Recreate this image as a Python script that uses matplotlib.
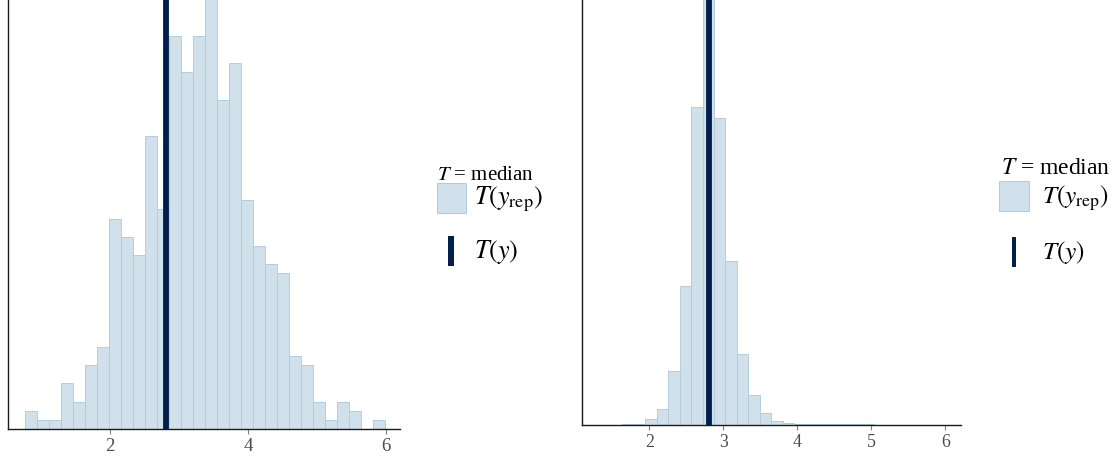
import numpy as np
import matplotlib
matplotlib.use("Agg")
import matplotlib.pyplot as plt
from matplotlib.patches import Rectangle

plt.rcParams["mathtext.fontset"] = "stix"
plt.rcParams["font.family"] = ["Liberation Serif", "DejaVu Serif"]

# Posterior predictive check of the median: replicated medians vs observed median
# Panel 1: wider model
left_bin_start = 0.773
left_bin_width = 0.1739
left_counts = [2, 1, 1, 5, 3, 7, 9, 23, 21, 19, 32, 24, 43, 39, 43,
               47, 36, 40, 25, 20, 18, 17, 8, 7, 3, 1, 3, 2, 0, 1]

# Panel 2: fitted model
right_bin_start = 1.327
right_bin_width = 0.1547
right_counts = [0, 0, 1, 3, 15, 40, 139, 358, 819, 1097, 790, 421, 183, 76, 31,
                10, 5, 3, 3, 2, 2, 1, 1, 1, 0, 0, 0, 0, 0, 0]

observed_median = 2.809

left_ticks = [2, 4, 6]
right_ticks = [2, 3, 4, 5, 6]

LIGHT = "#d1e1ec"
LIGHT_HI = "#b3cde0"
DARK_HI = "#011f4b"
TICK_COL = "#4d4d4d"

W, H = 1117, 460
fig = plt.figure(figsize=(W / 100, H / 100), dpi=100)


def px_box(x0, x1, ytop, ybot):
    return [x0 / W, 1 - ybot / H, (x1 - x0) / W, (ybot - ytop) / H]


def draw_panel(ax, start, width, counts, xlim, ticks, tick_size):
    counts = np.asarray(counts, dtype=float)
    edges = start + width * np.arange(len(counts) + 1)
    ax.hist(edges[:-1], bins=edges, weights=counts, color=LIGHT,
            edgecolor=LIGHT_HI, linewidth=0.7)
    ax.axvline(observed_median, color=DARK_HI, linewidth=4.2)
    ax.set_xlim(*xlim)
    ax.set_ylim(0, counts.max())
    ax.set_yticks([])
    ax.set_xticks(ticks)
    ax.set_xticklabels([str(t) for t in ticks])
    for s in ("top", "right"):
        ax.spines[s].set_visible(False)
    for s in ("left", "bottom"):
        ax.spines[s].set_color("#1a1a1a")
        ax.spines[s].set_linewidth(1.0)
    ax.tick_params(axis="x", length=3.6, width=0.8, color="#7f7f7f",
                   labelcolor=TICK_COL, labelsize=tick_size, pad=2.5)
    ax.set_facecolor("white")


ax1 = fig.add_axes(px_box(8, 400, 0, 430))
draw_panel(ax1, left_bin_start, left_bin_width, left_counts,
           (0.522, 6.203), left_ticks, 13.5)

ax2 = fig.add_axes(px_box(582.3, 960.7, 0, 425.7))
draw_panel(ax2, right_bin_start, right_bin_width, right_counts,
           (1.095, 6.208), right_ticks, 12.8)


def legend(x_title, y_title, title_size, patch, text_x, y_rep_c, bar, y_c,
           label_size):
    fig.text(x_title / W, 1 - y_title / H, r"$T$ = median",
             fontsize=title_size, ha="left", va="baseline")
    px0, px1, py0, py1 = patch
    fig.add_artist(Rectangle((px0 / W, 1 - py1 / H), (px1 - px0) / W,
                             (py1 - py0) / H, transform=fig.transFigure,
                             facecolor=LIGHT, edgecolor=LIGHT_HI, linewidth=0.8))
    fig.text(text_x / W, 1 - y_rep_c / H, r"$T\left(y_{\mathrm{rep}}\right)$",
             fontsize=label_size, ha="left", va="center")
    bx0, bx1, by0, by1 = bar
    fig.add_artist(Rectangle((bx0 / W, 1 - by1 / H), (bx1 - bx0) / W,
                             (by1 - by0) / H, transform=fig.transFigure,
                             facecolor=DARK_HI, edgecolor="none"))
    fig.text(text_x / W, 1 - y_c / H, r"$T\left(y\right)$",
             fontsize=label_size, ha="left", va="center")


legend(436.7, 180, 15, (436.7, 465.7, 184, 214), 474.3, 199,
       (448.3, 453.5, 237.3, 267.3), 252, 18.8)
legend(1000.7, 174.3, 17, (999, 1028.7, 181.7, 211.7), 1041.7, 198,
       (1011.5, 1016.5, 238, 268), 253, 18.2)

fig.savefig("out.png", dpi=100, facecolor="white")
